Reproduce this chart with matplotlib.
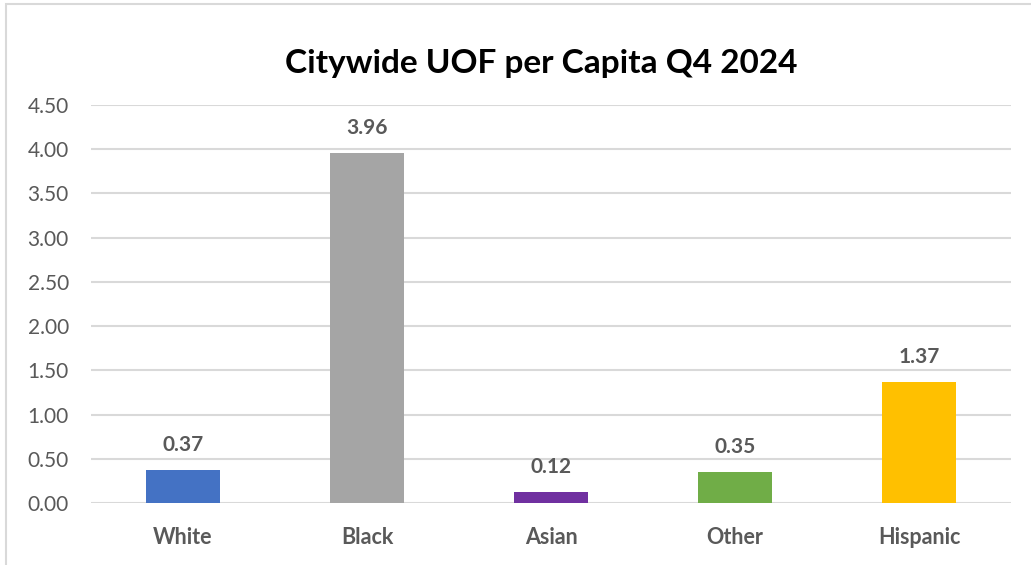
import matplotlib.pyplot as plt
from matplotlib.patches import Rectangle

groups = ["White", "Black", "Asian", "Other", "Hispanic"]
uof_per_capita = [0.37, 3.96, 0.12, 0.35, 1.37]
bar_colors = ["#4472C4", "#A5A5A5", "#7030A0", "#70AD47", "#FFC000"]
yticks = [0.0, 0.5, 1.0, 1.5, 2.0, 2.5, 3.0, 3.5, 4.0, 4.5]

plt.rcParams['font.family'] = ['Lato', 'DejaVu Sans']
text_gray = "#595959"
grid_gray = "#D9D9D9"

fig = plt.figure(figsize=(10.31, 5.65), dpi=100)
ax = fig.add_axes([0.0883, 0.1097, 0.8923, 0.7045])

# outer chart frame (runs off the right and bottom edges)
fig.patches.append(Rectangle((0.0058, -0.05), 1.2, 1.043, transform=fig.transFigure,
                             fill=False, edgecolor=grid_gray, linewidth=1.5))

x = range(len(groups))
bars = ax.bar(x, uof_per_capita, width=0.40, color=bar_colors, zorder=3)
for b, v in zip(bars, uof_per_capita):
    ax.text(b.get_x() + b.get_width() / 2, v + 0.17, f"{v:.2f}", ha="center", va="bottom",
            fontsize=15, fontweight="bold", color=text_gray)

ax.set_xlim(-0.5, len(groups) - 0.5)
ax.set_ylim(0, 4.5)
ax.set_yticks(yticks)
ax.set_yticklabels([f"{t:.2f}" for t in yticks])
ax.set_xticks(list(x))
ax.set_xticklabels(groups, fontweight="bold")
ax.tick_params(axis="y", length=0, pad=16, labelsize=15, labelcolor=text_gray)
ax.tick_params(axis="x", length=0, pad=17, labelsize=15.5, labelcolor=text_gray)
ax.grid(axis="y", color=grid_gray, linewidth=1.5, zorder=0)
ax.set_axisbelow(True)
for s in ax.spines.values():
    s.set_visible(False)

fig.text(0.525, 0.888, "Citywide UOF per Capita Q4 2024", ha="center", va="center",
         fontsize=24, fontweight="bold", color="black")

fig.savefig("out.png", dpi=100)
